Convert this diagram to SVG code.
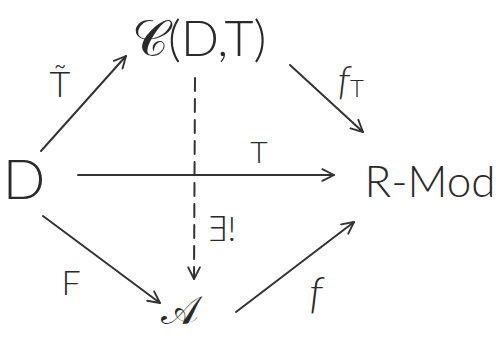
<svg xmlns="http://www.w3.org/2000/svg" width="496" height="338" viewBox="0 0 496 338">
<style>
.t{font-family:"Lato","Open Sans","DejaVu Sans",sans-serif;font-weight:300;fill:#2a2a2a}
.m{font-family:"DejaVu Sans","Noto Sans",serif;fill:#2a2a2a}
.e{stroke:#333;stroke-width:2;fill:none;stroke-linecap:round}
</style>
<defs>
<marker id="ah" viewBox="0 0 12 12" refX="11" refY="6" markerWidth="14" markerHeight="14" markerUnits="userSpaceOnUse" orient="auto">
<path d="M1,1 L11,6 L1,11" fill="none" stroke="#333" stroke-width="1.6" stroke-linecap="round" stroke-linejoin="round"/>
</marker>
</defs>
<rect width="496" height="338" fill="#fff"/>
<g id="connectors">
<line class="e" x1="41" y1="151" x2="126" y2="56" marker-end="url(#ah)"/>
<line class="e" x1="290" y1="65" x2="363" y2="132" marker-end="url(#ah)"/>
<line class="e" x1="78" y1="175" x2="334" y2="175" marker-end="url(#ah)"/>
<line class="e" x1="43" y1="216" x2="160" y2="303" marker-end="url(#ah)"/>
<line class="e" x1="236" y1="312" x2="354" y2="222" marker-end="url(#ah)"/>
<line class="e" x1="195" y1="78" x2="194" y2="279" stroke-dasharray="13 8" marker-end="url(#ah)"/>
<text class="t" x="60" y="97" font-size="36" text-anchor="middle">T̃</text>
<text class="t" x="344" y="94" font-size="40" font-style="italic" text-anchor="middle">f</text>
<text class="t" x="357" y="97" font-size="24" text-anchor="middle">T</text>
<text class="t" x="259" y="163" font-size="30" text-anchor="middle">T</text>
<text class="t" x="221" y="241" font-size="34" text-anchor="middle">∃!</text>
<text class="t" x="71" y="295" font-size="34" text-anchor="middle">F</text>
<text class="t" x="316" y="308" font-size="44" font-style="italic" text-anchor="middle">f</text>
</g>
<g id="node-D"><text class="t" x="24" y="199" font-size="56" text-anchor="middle">D</text></g>
<g id="node-C"><text x="132" y="56" font-size="50"><tspan class="m">𝒞</tspan><tspan class="t">(D,T)</tspan></text></g>
<g id="node-RMod"><text class="t" x="430" y="197" font-size="44" text-anchor="middle">R-Mod</text></g>
<g id="node-A"><text class="m" x="180" y="324" font-size="40" text-anchor="middle">𝒜</text></g>
</svg>
